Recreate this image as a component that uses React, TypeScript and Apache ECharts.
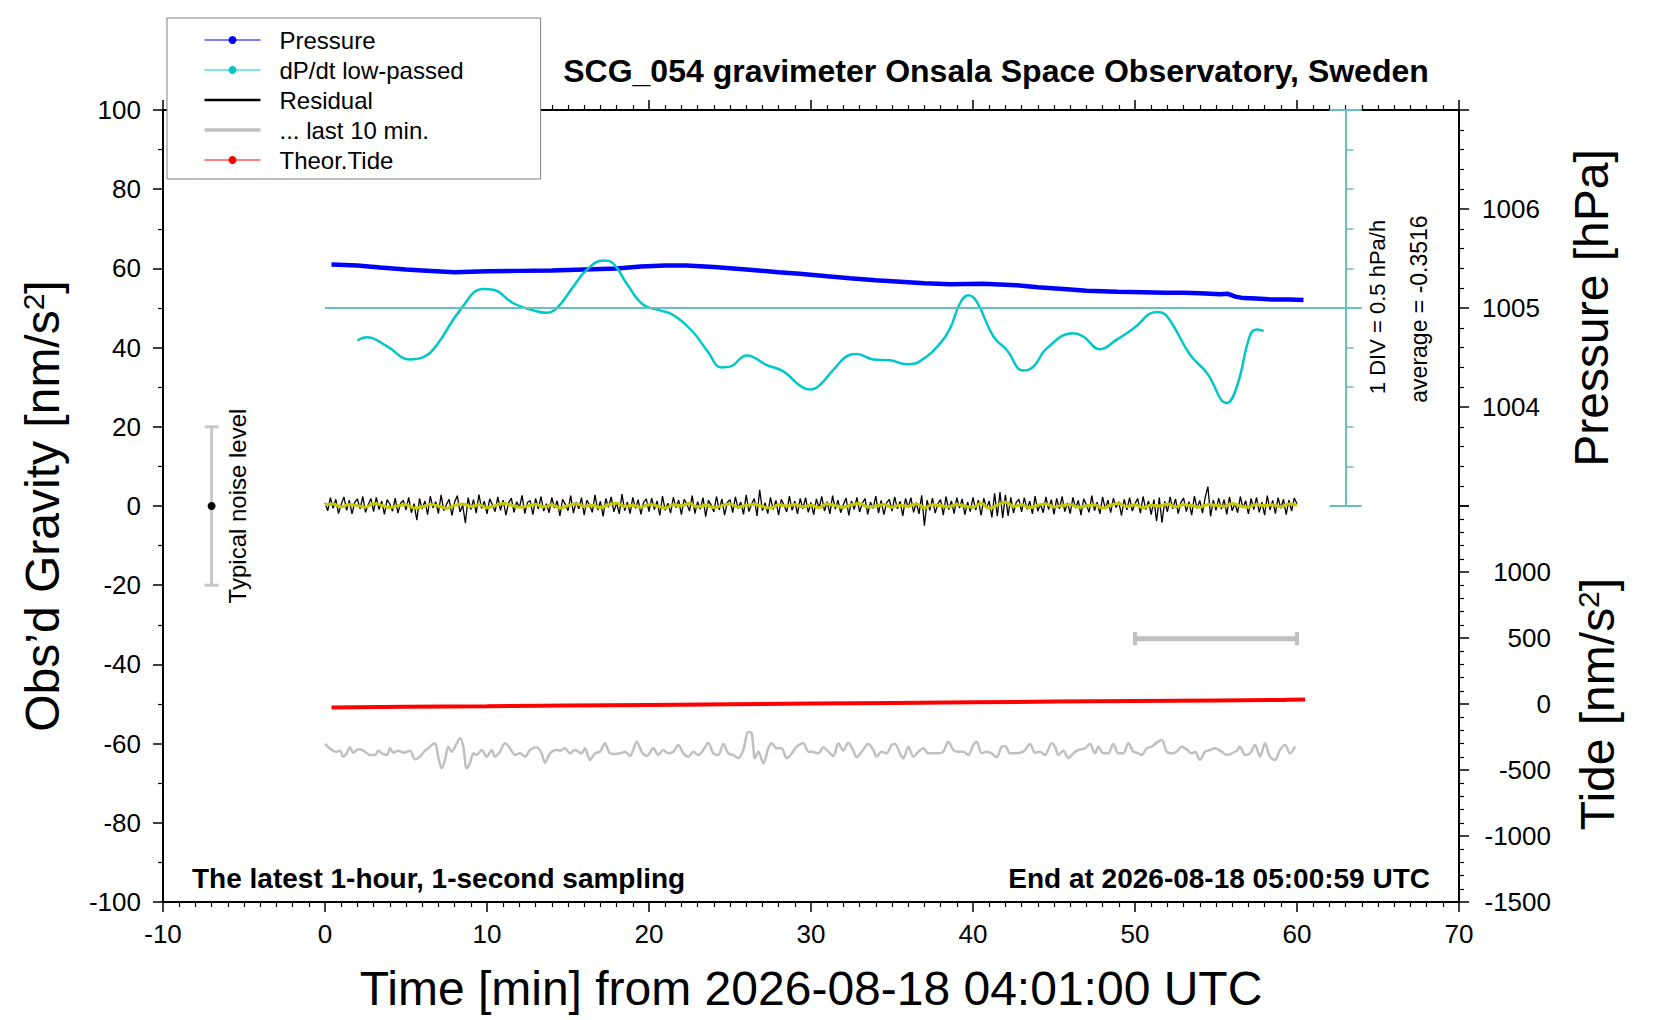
import React, { useEffect, useRef } from "react";
import * as echarts from "echarts";

const FONT = '"Liberation Sans", Arial, Helvetica, sans-serif';

// ---------- axes ----------
const X_MIN = -10;
const X_MAX = 70;
const X_STEP = 10;
const G_MIN = -100;
const G_MAX = 100;
const G_STEP = 20;
const P_MIN = 1003;
const P_MAX = 1007;
const P_STEP = 1;
const P_LABELS = [1004, 1005, 1006];
const TIDE_MIN = -1500;
const TIDE_MAX = 1500;
const TIDE_STEP = 500;
const TIDE_LABEL_MAX = 1000;
const DPDT_MIN = -2.5;
const DPDT_MAX = 2.5;
const DPDT_DIV = 0.5;

// ---------- Pressure [hPa] ----------
const pressureTime = [0.4, 2, 3.4, 5, 6, 8, 10, 12, 14, 16, 18, 19.5, 21, 22.3, 24, 26, 28, 29.3, 31, 32.4, 34, 35.5, 37, 38.6, 40.6, 42.7, 44, 45.8, 47, 48.9, 50.5, 51.9, 53, 54, 55.3, 55.7, 56.2, 56.7, 57.5, 58.5, 59.5, 60.4];
const pressureHPa = [1005.44, 1005.43, 1005.41, 1005.39, 1005.38, 1005.36, 1005.37, 1005.375, 1005.38, 1005.39, 1005.4, 1005.42, 1005.43, 1005.43, 1005.415, 1005.39, 1005.36, 1005.345, 1005.32, 1005.3, 1005.28, 1005.265, 1005.25, 1005.24, 1005.245, 1005.23, 1005.21, 1005.19, 1005.175, 1005.165, 1005.16, 1005.155, 1005.155, 1005.15, 1005.14, 1005.145, 1005.115, 1005.1, 1005.095, 1005.085, 1005.085, 1005.08];

// ---------- dP/dt low-passed [hPa/h] ----------
const dpdtTime = [2.0, 2.57, 3.81, 5.25, 6.07, 6.89, 8.33, 9.77, 10.39, 11.62, 12.86, 13.68, 14.3, 15.33, 16.15, 17.18, 17.8, 18.62, 19.65, 20.68, 21.5, 22.7, 23.56, 24.49, 25.0, 26.03, 27.27, 28.29, 29.32, 29.94, 30.56, 31.38, 32.41, 32.82, 33.85, 34.88, 35.91, 36.73, 37.96, 38.58, 39.2, 39.71, 40.23, 41.26, 42.08, 43.11, 43.73, 44.55, 46.19, 46.81, 47.84, 48.87, 49.9, 51.34, 51.96, 53.4, 54.44, 55.67, 56.29, 57.11, 57.53, 57.94];
const dpdtHPaH = [-0.41, -0.37, -0.48, -0.65, -0.62, -0.47, -0.03, 0.24, 0.23, 0.06, -0.03, -0.06, -0.005, 0.27, 0.48, 0.6, 0.56, 0.31, 0.04, -0.03, -0.09, -0.3, -0.53, -0.75, -0.74, -0.6, -0.72, -0.8, -0.98, -1.03, -0.97, -0.78, -0.59, -0.58, -0.65, -0.66, -0.71, -0.67, -0.45, -0.26, 0.06, 0.16, 0.08, -0.36, -0.53, -0.79, -0.74, -0.51, -0.32, -0.36, -0.52, -0.4, -0.26, -0.05, -0.1, -0.59, -0.82, -1.2, -0.99, -0.34, -0.27, -0.29];
const DPDT_SCALE_X = 63;
const DPDT_AVERAGE = "-0.3516";

// ---------- Residual [nm/s^2], one value every 10 s ----------
const RESIDUAL_STEP_MIN = 10 / 60;
const residual = [
  0.8, -1.2, 2.1, -0.6, 1.7, -1.9, 0.4, 2.3, -1.1, 1.5, -2.0, 0.9, 1.8, -0.7, 2.4, -1.6, 0.3, 1.9, -1.4, 2.2, -0.9, 1.2, -2.1, 1.6, 0.5, -1.3, 2.0, -1.8, 0.7, 1.4,
  -1.0, 2.2, -1.7, 0.6, -3.6, 1.9, -0.8, 1.3, -2.2, 2.5, -0.5, 1.1, -1.9, 2.8, -1.2, 0.4, 1.7, -2.4, 1.0, 2.6, -1.5, 0.2, -4.3, 2.1, -0.9, 1.6, -1.8, 2.9, -0.6, 1.2,
  -2.0, 1.8, 0.3, -1.4, 2.3, -1.1, 1.5, -2.3, 0.8, 2.0, -1.6, 1.1, -0.4, 2.7, -1.9, 0.9, 1.4, -2.2, 1.9, -0.8, 2.4, -1.3, 0.6, -1.7, 2.2, -0.5, 1.3, -2.5, 1.7, 0.4,
  -1.2, 2.6, -1.8, 1.0, -0.7, 2.1, -2.3, 1.5, 0.2, -1.6, 2.8, -1.0, 1.2, -2.6, 1.9, -0.3, 2.3, -1.5, 0.8, -2.0, 3.0, -1.2, 1.0, -1.9, 2.2, -0.6, 1.6, -2.1, 0.9, 1.8,
  -1.4, 2.0, -0.9, 1.3, -2.4, 2.5, -1.1, 0.7, -1.8, 2.2, -0.4, 1.5, -2.2, 1.7, 0.6, -1.3, 2.6, -1.9, 1.1, -0.8, 2.1, -2.7, 1.4, 0.3, -1.5, 2.4, -1.0, 1.8, -2.3, 0.9,
  1.6, -1.7, 2.3, -0.6, 1.0, -2.1, 2.8, -1.4, 0.5, 1.9, -2.5, 4.1, -1.2, 0.8, -1.9, 2.2, -0.9, 1.4, -2.3, 1.7, 0.2, -1.5, 2.5, -1.1, 1.2, -2.0, 1.9, -0.7, 2.1, -1.6,
  0.9, -2.2, 1.8, -0.5, 2.4, -1.3, 1.1, -2.0, 2.6, -0.8, 1.5, -1.7, 0.4, 2.0, -2.4, 1.3, -0.9, 2.2, -1.5, 0.7, 1.9, -2.1, 1.0, -0.6, 2.5, -1.8, 1.4, -2.2, 0.8, 1.7,
  -1.3, 2.3, -0.7, 1.2, -2.5, 1.9, -0.4, 2.1, -1.6, 0.9, -2.0, 2.7, -5.0, 1.5, -1.1, 2.0, -1.8, 0.6, 1.6, -2.3, 2.4, -0.9, 1.3, -1.9, 2.1, -0.5, 1.8, -2.2, 1.0, -1.4,
  2.2, -1.0, 1.5, -2.4, 2.0, -0.6, 1.3, -2.9, 3.2, -2.6, 3.5, -3.0, 2.8, -2.5, 2.2, -1.8, 0.9, 1.7, -1.5, 2.1, -0.8, 1.2, -2.0, 2.5, -1.3, 0.5, -1.7, 2.3, -0.9, 1.6,
  -2.1, 1.9, -0.7, 2.4, -1.4, 0.8, -1.9, 2.2, -0.5, 1.4, -2.3, 1.8, 0.3, -1.6, 2.6, -1.2, 1.0, -2.0, 2.3, -0.8, 1.5, -1.7, 2.0, -0.4, 1.1, -2.4, 1.7, -1.0, 2.1, -1.3,
  0.6, 1.9, -1.8, 2.4, -0.9, 1.3, -2.2, 1.6, -3.8, 2.1, -4.2, 1.2, -1.5, 2.3, -0.7, 1.8, -1.9, 0.9, 2.0, -1.4, 1.1, -2.3, 2.5, -0.6, 1.4, -1.8, 2.2, 4.9, -2.6, 1.5,
  -1.1, 2.0, -0.8, 1.6, -2.1, 2.3, -1.2, 0.7, -1.7, 2.4, -0.5, 1.3, -2.0, 1.9, -0.9, 2.2, -1.6, 1.0, -2.3, 2.6, -1.0, 1.4, -1.9, 2.1, -0.6, 1.7, -2.2, 1.5, -1.3, 2.0,
  0.5,
];

// ---------- Residual, smoothed (yellow), one value every 30 s ----------
const SMOOTH_STEP_MIN = 0.5;
const residualSmooth = [
  0.3, 0.5, -0.2, 0.4, 0.1, -0.3, 0.6, 0.2, -0.4, 0.1, 0.3, -0.5, -0.2, 0.4, 0.0, -0.6, 0.2, 0.5, -0.1, 0.3,
  -0.4, 0.1, 0.6, 0.2, -0.3, 0.0, 0.4, -0.2, 0.3, -0.5, 0.1, 0.5, -0.1, 0.2, -0.4, 0.3, 0.7, -0.1, 0.2, -0.3,
  0.4, 0.0, -0.5, 0.3, 0.1, 0.6, -0.2, 0.2, -0.4, 0.1, 0.5, -0.3, 0.2, 0.4, -0.1, -0.5, 0.3, 0.0, 0.4, -0.2,
  0.2, -0.4, 0.5, 0.1, -0.3, 0.3, 0.6, -0.2, 0.0, 0.4, -0.3, 0.2, -0.1, 0.5, -0.4, 0.3, 0.1, -0.2, 0.4, 0.0,
  -0.3, 0.7, -0.6, 0.2, 1.0, -0.1, 0.3, -0.4, 0.2, 0.5, -0.2, 0.1, 0.4, -0.3, 0.0, 0.3, -0.5, 0.2, 0.6, -0.1,
  0.3, -0.4, 0.2, 0.0, 0.5, -0.2, 0.3, 0.1, -0.3, 0.4, 0.2, -0.1, 0.6, 0.0, -0.3, 0.4, 0.1, 0.3, -0.2, 0.5, 0.2,
];

// ---------- ... last 10 min (stretched over the hour) ----------
const grayTime = [0, 0.41, 0.72, 0.93, 1.13, 1.34, 1.54, 1.75, 2.06, 2.37, 2.78, 3.09, 3.29, 3.5, 3.81, 4.01, 4.22, 4.53, 4.84, 5.25, 5.56, 5.86, 6.17, 6.38, 6.58, 6.79, 6.99, 7.2, 7.41, 7.61, 7.82, 8.13, 8.33, 8.54, 8.74, 8.95, 9.16, 9.36, 9.67, 9.98, 10.29, 10.49, 10.8, 11.11, 11.42, 11.73, 12.04, 12.35, 12.65, 13.07, 13.37, 13.58, 13.89, 14.3, 14.51, 14.81, 15.12, 15.43, 15.64, 15.84, 16.05, 16.36, 16.67, 16.98, 17.28, 17.59, 17.9, 18.21, 18.52, 18.83, 19.24, 19.55, 19.86, 20.27, 20.58, 20.88, 21.19, 21.5, 21.81, 22.12, 22.43, 22.74, 23.05, 23.35, 23.66, 23.97, 24.28, 24.59, 24.9, 25.21, 25.51, 25.82, 26.13, 26.34, 26.54, 26.75, 27.06, 27.37, 27.57, 27.88, 28.19, 28.5, 28.81, 29.12, 29.53, 29.84,
  30.04, 30.45, 30.76, 31.07, 31.38, 31.69, 31.99, 32.3, 32.61, 32.82, 33.13, 33.54, 33.85, 34.05, 34.36, 34.67, 34.98, 35.19, 35.49, 35.7, 36.01, 36.32, 36.63, 36.93, 37.24, 37.55, 37.86, 38.17, 38.48, 38.79, 39.1, 39.4, 39.71, 40.02, 40.23, 40.54, 40.84, 41.15, 41.46, 41.77, 41.98, 42.28, 42.59, 43.11, 43.52, 43.83, 44.14, 44.44, 44.86, 45.06, 45.27, 45.58, 45.88, 46.19, 46.5, 46.91, 47.22, 47.53, 47.74, 48.05, 48.35, 48.66, 48.97, 49.28, 49.59, 49.9, 50.21, 50.41, 50.72, 51.03, 51.34, 51.65, 51.96, 52.26, 52.57, 52.88, 53.19, 53.5, 53.7, 54.01, 54.32, 54.63, 54.94, 55.35, 55.66, 55.97, 56.28, 56.48, 56.79, 57.1, 57.41, 57.72, 58.02, 58.33, 58.64, 58.95, 59.26, 59.57, 59.88];
const grayValue = [-60.1, -61.62, -62.04, -61.78, -63.3, -62.46, -60.94, -62.29, -61.45, -61.78, -62.88, -62.88, -61.78, -62.46, -62.88, -61.2, -62.29, -61.78, -62.29, -61.78, -63.97, -63.3, -61.78, -61.2, -60.35, -59.93, -63.3, -66.25, -64.14, -60.77, -62.04, -59.93, -58.67, -60.77, -66.25, -64.98, -62.46, -62.88, -61.62, -63.3, -61.62, -63.3, -62.04, -59.93, -61.2, -62.88, -62.46, -63.3, -61.62, -60.94, -62.46, -64.81, -62.46, -61.62, -61.78, -61.2, -62.46, -61.62, -62.04, -62.46, -61.2, -64.14, -62.46, -62.04, -59.93, -62.46, -62.63, -62.46, -62.04, -63.13, -59.51, -62.04, -63.13, -61.2, -62.88, -61.62, -62.46, -62.04, -60.35, -62.46, -63.3, -62.04, -62.88, -61.62, -59.76, -62.46, -62.88, -60.1, -62.46, -62.88, -63.72, -61.62, -56.99, -57.41, -63.72, -62.04, -64.98, -61.2, -59.93, -61.2, -61.2, -63.72, -62.46, -60.77, -59.93, -62.04,
  -62.04, -62.46, -60.94, -62.04, -63.13, -59.93, -61.78, -59.76, -61.78, -63.47, -62.04, -60.1, -61.62, -63.3, -62.04, -62.46, -60.35, -60.1, -62.46, -63.72, -60.77, -63.3, -62.04, -61.2, -62.46, -62.46, -62.46, -62.04, -59.51, -61.62, -62.04, -62.04, -62.88, -60.35, -59.51, -62.46, -62.04, -62.46, -63.47, -60.77, -60.61, -62.46, -62.46, -62.04, -60.1, -62.29, -62.04, -62.88, -59.93, -60.77, -62.88, -61.78, -63.72, -62.46, -61.62, -61.2, -60.1, -62.46, -60.77, -62.46, -62.46, -60.1, -62.46, -62.46, -59.93, -62.04, -62.46, -62.88, -61.2, -60.77, -59.76, -59.09, -62.04, -62.46, -62.04, -60.77, -61.45, -62.46, -62.04, -64.14, -62.04, -61.62, -61.2, -62.04, -62.88, -62.46, -61.78, -60.77, -62.88, -62.46, -60.35, -63.3, -59.93, -63.3, -64.14, -61.62, -60.35, -62.46, -60.77];

// ---------- Theoretical tide [nm/s^2] ----------
const tideTime = [0.4, 5, 10, 15, 20, 25, 30, 35, 40, 45, 50, 55, 59.2, 59.4, 60.5];
const tideNms2 = [-26, -21, -17, -12, -7, -2, 3, 8, 13, 18, 23, 27, 30, 33, 34];

// ---------- markers ----------
const noiseLevel = [[-7, -20, 20]]; // x, low, high
const tenMinBar = [[50, 60, -33.5]]; // x0, x1, y

const zip = (xs: number[], ys: number[]) => xs.map((x, i) => [x, ys[i]]);

const BLUE = "#0000ff";
const CYAN = "#00c8c8";
const TEAL = "#66c0c0";
const GRAY = "#c0c0c0";
const YELLOW = "#c8c800";
const RED = "#ff0000";

const axisLine = { show: true, onZero: false, lineStyle: { color: "#000", width: 2 } };
const axisTick = { show: true, length: 10, lineStyle: { color: "#000", width: 1.5 } };
const label = { fontSize: 26, color: "#000", fontFamily: FONT };
const nameStyle = {
  fontSize: 48,
  color: "#000",
  fontFamily: FONT,
  rich: {
    a: { fontSize: 48, color: "#000", fontFamily: FONT },
    s: { fontSize: 30, color: "#000", fontFamily: FONT, verticalAlign: "top" },
  },
};

const GRID_L = 163;
const GRID_R = 201;
const GRID_T = 110;
const GRID_H = 792;

function buildOption() {
  return {
    animation: false,
    backgroundColor: "#fff",
    textStyle: { fontFamily: FONT },
    grid: [
      { left: GRID_L, right: GRID_R, top: GRID_T, height: GRID_H },
      { left: GRID_L, right: GRID_R, top: GRID_T, height: GRID_H / 2 },
      { left: GRID_L, right: GRID_R, top: GRID_T + GRID_H / 2, height: GRID_H / 2 },
    ],
    xAxis: [
      {
        gridIndex: 0, type: "value", position: "bottom", min: X_MIN, max: X_MAX, interval: X_STEP,
        axisLine, axisTick,
        minorTick: { show: true, splitNumber: 10, length: 5, lineStyle: { color: "#000", width: 1.2 } },
        splitLine: { show: false }, minorSplitLine: { show: false },
        axisLabel: { ...label, margin: 19 },
        name: "Time [min] from 2026-08-18 04:01:00 UTC",
        nameLocation: "middle", nameGap: 62,
        nameTextStyle: { fontSize: 48, color: "#000", fontFamily: FONT },
      },
      {
        gridIndex: 0, type: "value", position: "top", min: X_MIN, max: X_MAX, interval: X_STEP,
        axisLine, axisTick,
        minorTick: { show: true, splitNumber: 10, length: 5, lineStyle: { color: "#000", width: 1.2 } },
        splitLine: { show: false }, axisLabel: { show: false },
      },
      { gridIndex: 1, type: "value", min: X_MIN, max: X_MAX, show: false, splitLine: { show: false } },
      { gridIndex: 2, type: "value", min: X_MIN, max: X_MAX, show: false, splitLine: { show: false } },
    ],
    yAxis: [
      {
        gridIndex: 0, type: "value", position: "left", min: G_MIN, max: G_MAX, interval: G_STEP,
        axisLine, axisTick,
        minorTick: { show: true, splitNumber: 2, length: 5, lineStyle: { color: "#000", width: 1.2 } },
        splitLine: { show: false },
        axisLabel: { ...label, margin: 22 },
        name: "{a|Obs\u2019d Gravity [nm/s}{s|2}{a|]}",
        nameLocation: "middle", nameGap: 97, nameRotate: 90,
        nameTextStyle: nameStyle,
      },
      {
        gridIndex: 1, type: "value", position: "right", min: P_MIN, max: P_MAX, interval: P_STEP,
        axisLine, axisTick,
        minorTick: { show: true, splitNumber: 5, length: 5, lineStyle: { color: "#000", width: 1.2 } },
        splitLine: { show: false },
        axisLabel: {
          ...label, margin: 23,
          formatter: (v: number) => (P_LABELS.indexOf(v) >= 0 ? String(v) : ""),
        },
        name: "Pressure [hPa]",
        nameLocation: "middle", nameGap: 108, nameRotate: 90,
        nameTextStyle: { fontSize: 48, color: "#000", fontFamily: FONT },
      },
      {
        gridIndex: 2, type: "value", position: "right", min: TIDE_MIN, max: TIDE_MAX, interval: TIDE_STEP,
        axisLine, axisTick,
        minorTick: { show: true, splitNumber: 5, length: 5, lineStyle: { color: "#000", width: 1.2 } },
        splitLine: { show: false },
        axisLabel: {
          ...label, margin: 92, align: "right",
          formatter: (v: number) => (v <= TIDE_LABEL_MAX ? String(v) : ""),
        },
        name: "{a|Tide [nm/s}{s|2}{a|]}",
        nameLocation: "middle", nameGap: 114, nameRotate: 90,
        nameTextStyle: nameStyle,
      },
      {
        gridIndex: 1, type: "value", position: "right", offset: -113.4,
        min: DPDT_MIN, max: DPDT_MAX, interval: DPDT_DIV,
        axisLine: { show: true, onZero: false, lineStyle: { color: TEAL, width: 2 } },
        axisTick: { show: true, length: 8, lineStyle: { color: TEAL, width: 1.5 } },
        axisLabel: { show: false },
        splitLine: { show: false },
      },
    ],
    legend: {
      show: true,
      orient: "vertical",
      left: 167,
      top: 18,
      backgroundColor: "#fff",
      borderColor: "#808080",
      borderWidth: 1,
      borderRadius: 0,
      padding: [10, 77, 7, 37],
      itemWidth: 56,
      itemHeight: 10,
      itemGap: 6,
      selectedMode: false,
      z: 10,
      textStyle: { fontSize: 24, color: "#000", fontFamily: FONT, lineHeight: 24, padding: [0, 0, 0, 14] },
      data: [
        { name: "Pressure", lineStyle: { width: 1 } },
        { name: "dP/dt low-passed", lineStyle: { width: 1 } },
        { name: "Residual", icon: "path://M0,0H56V2.5H0Z" },
        { name: "... last 10 min.", icon: "path://M0,0H56V3.5H0Z" },
        { name: "Theor.Tide", lineStyle: { width: 1 } },
      ],
    },
    graphic: [
      {
        type: "text", x: 996, y: 71, z: 20,
        style: { text: "SCG_054 gravimeter Onsala Space Observatory, Sweden", fill: "#000", fontSize: 32, fontWeight: "bold", fontFamily: FONT, align: "center", verticalAlign: "middle" },
      },
      {
        type: "text", x: 192, y: 878, z: 20,
        style: { text: "The latest 1-hour, 1-second sampling", fill: "#000", fontSize: 28, fontWeight: "bold", fontFamily: FONT, align: "left", verticalAlign: "middle" },
      },
      {
        type: "text", x: 1430, y: 878, z: 20,
        style: { text: "End at 2026-08-18 05:00:59 UTC", fill: "#000", fontSize: 28, fontWeight: "bold", fontFamily: FONT, align: "right", verticalAlign: "middle" },
      },
      {
        type: "text", x: 1377, y: 307, rotation: Math.PI / 2, z: 20,
        style: { text: "1 DIV = " + DPDT_DIV + " hPa/h", fill: "#000", fontSize: 22, fontFamily: FONT, align: "center", verticalAlign: "middle" },
      },
      {
        type: "text", x: 1419, y: 309, rotation: Math.PI / 2, z: 20,
        style: { text: "average = " + DPDT_AVERAGE, fill: "#000", fontSize: 23, fontFamily: FONT, align: "center", verticalAlign: "middle" },
      },
      {
        type: "text", x: 237, y: 506, rotation: Math.PI / 2, z: 20,
        style: { text: "Typical noise level", fill: "#000", fontSize: 24, fontFamily: FONT, align: "center", verticalAlign: "middle" },
      },
    ],
    series: [
      {
        name: "Pressure", type: "line", xAxisIndex: 2, yAxisIndex: 1,
        data: zip(pressureTime, pressureHPa),
        symbol: "circle", showSymbol: false, color: BLUE,
        lineStyle: { color: BLUE, width: 4.5 }, z: 3,
      },
      {
        name: "dP/dt low-passed", type: "line", xAxisIndex: 2, yAxisIndex: 3,
        data: zip(dpdtTime, dpdtHPaH),
        symbol: "circle", showSymbol: false, smooth: 0.45, color: CYAN,
        lineStyle: { color: CYAN, width: 2.5 }, z: 4,
        markLine: {
          silent: true, symbol: "none", animation: false,
          label: { show: false },
          lineStyle: { color: TEAL, width: 2, type: "solid" },
          emphasis: { disabled: true },
          data: [
            [{ coord: [0, 0] }, { coord: [DPDT_SCALE_X + 1, 0] }],
            [{ coord: [DPDT_SCALE_X - 1, DPDT_MAX] }, { coord: [DPDT_SCALE_X + 1, DPDT_MAX] }],
            [{ coord: [DPDT_SCALE_X - 1, DPDT_MIN] }, { coord: [DPDT_SCALE_X + 1, DPDT_MIN] }],
          ],
        },
      },
      {
        name: "Residual", type: "line", xAxisIndex: 0, yAxisIndex: 0,
        data: residual.map((v, i) => [i * RESIDUAL_STEP_MIN, v]),
        symbol: "none", color: "#000",
        lineStyle: { color: "#000", width: 1.3 }, z: 3,
      },
      {
        name: "Residual (smoothed)", type: "line", xAxisIndex: 0, yAxisIndex: 0,
        data: residualSmooth.map((v, i) => [i * SMOOTH_STEP_MIN, v]),
        symbol: "none", smooth: 0.4, color: YELLOW,
        lineStyle: { color: YELLOW, width: 3 }, z: 4,
      },
      {
        name: "... last 10 min.", type: "line", xAxisIndex: 0, yAxisIndex: 0,
        data: zip(grayTime, grayValue),
        symbol: "none", smooth: 0.3, color: GRAY,
        lineStyle: { color: GRAY, width: 2.5 }, z: 3,
      },
      {
        name: "Theor.Tide", type: "line", xAxisIndex: 3, yAxisIndex: 2,
        data: zip(tideTime, tideNms2),
        symbol: "circle", showSymbol: false, color: RED,
        lineStyle: { color: RED, width: 4 }, z: 3,
      },
      {
        name: "noise level", type: "custom", xAxisIndex: 0, yAxisIndex: 0,
        data: noiseLevel, clip: false, silent: true,
        encode: { x: 0, y: [1, 2] },
        renderItem: (_p: any, api: any) => {
          const lo = api.coord([api.value(0), api.value(1)]);
          const hi = api.coord([api.value(0), api.value(2)]);
          const mid = api.coord([api.value(0), 0]);
          const c = 7;
          const st = { stroke: "#c8c8c8", lineWidth: 3 };
          return {
            type: "group",
            children: [
              { type: "line", shape: { x1: lo[0], y1: lo[1], x2: hi[0], y2: hi[1] }, style: st },
              { type: "line", shape: { x1: lo[0] - c, y1: lo[1], x2: lo[0] + c, y2: lo[1] }, style: st },
              { type: "line", shape: { x1: hi[0] - c, y1: hi[1], x2: hi[0] + c, y2: hi[1] }, style: st },
              { type: "circle", shape: { cx: mid[0], cy: mid[1], r: 4 }, style: { fill: "#000" } },
            ],
          };
        },
      },
      {
        name: "10 min bar", type: "custom", xAxisIndex: 0, yAxisIndex: 0,
        data: tenMinBar, clip: false, silent: true,
        encode: { x: [0, 1], y: 2 },
        renderItem: (_p: any, api: any) => {
          const a = api.coord([api.value(0), api.value(2)]);
          const b = api.coord([api.value(1), api.value(2)]);
          const c = 6.5;
          return {
            type: "group",
            children: [
              { type: "line", shape: { x1: a[0], y1: a[1], x2: b[0], y2: b[1] }, style: { stroke: GRAY, lineWidth: 5 } },
              { type: "line", shape: { x1: a[0], y1: a[1] - c, x2: a[0], y2: a[1] + c }, style: { stroke: GRAY, lineWidth: 4 } },
              { type: "line", shape: { x1: b[0], y1: b[1] - c, x2: b[0], y2: b[1] + c }, style: { stroke: GRAY, lineWidth: 4 } },
            ],
          };
        },
      },
    ],
  };
}

export default function App() {
  const ref = useRef<HTMLDivElement>(null);
  useEffect(() => {
    if (!ref.current) return;
    const chart = echarts.init(ref.current, null, { renderer: "svg" });
    chart.setOption(buildOption() as any);
    return () => chart.dispose();
  }, []);
  return (
    <div
      ref={ref}
      style={{ position: "absolute", left: 0, top: 0, width: 1660, height: 1020, background: "#fff" }}
    />
  );
}
